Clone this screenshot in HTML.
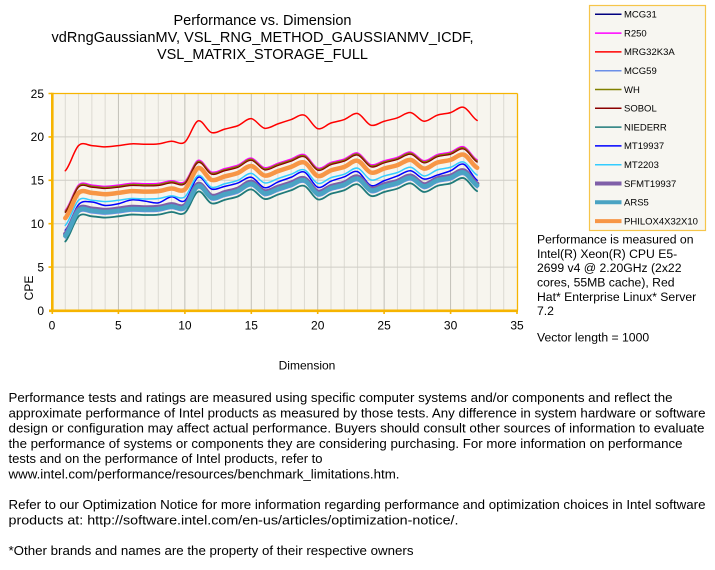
<!DOCTYPE html>
<html>
<head>
<meta charset="utf-8">
<style>
  html,body{margin:0;padding:0;background:#fff;}
  svg{display:block;}
  text{font-family:"Liberation Sans", Arial, sans-serif; fill:#000;}
</style>
</head>
<body>
<svg width="715" height="570" viewBox="0 0 715 570" xmlns="http://www.w3.org/2000/svg">
  <rect x="0" y="0" width="715" height="570" fill="#ffffff"/>

  <!-- Title -->
  <text x="262.5" y="25" font-size="14.5" text-anchor="middle" textLength="178" lengthAdjust="spacing">Performance vs. Dimension</text>
  <text x="262.5" y="42" font-size="14.5" text-anchor="middle" textLength="422" lengthAdjust="spacing">vdRngGaussianMV,  VSL_RNG_METHOD_GAUSSIANMV_ICDF,</text>
  <text x="262.5" y="59" font-size="14.5" text-anchor="middle" textLength="211" lengthAdjust="spacing">VSL_MATRIX_STORAGE_FULL</text>

  <!-- Plot background -->
  <rect x="52" y="93.5" width="465.5" height="217" fill="#f7f5ee"/>

  <!-- Grid (data coords) -->
  <g transform="translate(52,310.5) scale(13.2857,-8.68)" fill="none">
    <path d="M1,0V25M2,0V25M3,0V25M4,0V25M6,0V25M7,0V25M8,0V25M9,0V25M11,0V25M12,0V25M13,0V25M14,0V25M16,0V25M17,0V25M18,0V25M19,0V25M21,0V25M22,0V25M23,0V25M24,0V25M26,0V25M27,0V25M28,0V25M29,0V25M31,0V25M32,0V25M33,0V25M34,0V25" stroke="#dcdad2" stroke-width="1" vector-effect="non-scaling-stroke"/>
    <path d="M5,0V25M10,0V25M15,0V25M20,0V25M25,0V25M30,0V25" stroke="#c2c0b8" stroke-width="1" vector-effect="non-scaling-stroke"/>
    <path d="M0,5H35M0,10H35M0,15H35M0,20H35" stroke="#cfcdc6" stroke-width="1" vector-effect="non-scaling-stroke"/>
  </g>

  <!-- Series -->
  <g transform="translate(52,310.5) scale(13.2857,-8.68)" fill="none" stroke-linejoin="round" stroke-linecap="round">
    <!-- MCG31 -->
    <path transform="translate(0,-7.45)" stroke="#000080" stroke-width="1.5" vector-effect="non-scaling-stroke" d="M1,16.1 C1.333,16.583 1.667,18.517 2,19 C2.333,19.483 2.667,19.025 3,19 C3.333,18.975 3.667,18.85 4,18.85 C4.333,18.85 4.667,18.942 5,19 C5.333,19.058 5.667,19.175 6,19.2 C6.333,19.225 6.667,19.15 7,19.15 C7.333,19.15 7.667,19.142 8,19.2 C8.333,19.258 8.667,19.467 9,19.5 C9.333,19.533 9.667,19.008 10,19.4 C10.333,19.792 10.667,21.667 11,21.85 C11.333,22.033 11.667,20.658 12,20.5 C12.333,20.342 12.667,20.767 13,20.9 C13.333,21.033 13.667,21.1 14,21.3 C14.333,21.5 14.667,22.15 15,22.1 C15.333,22.05 15.667,21.1 16,21 C16.333,20.9 16.667,21.333 17,21.5 C17.333,21.667 17.667,21.833 18,22 C18.333,22.167 18.667,22.675 19,22.5 C19.333,22.325 19.667,21.1 20,20.95 C20.333,20.8 20.667,21.425 21,21.6 C21.333,21.775 21.667,21.817 22,22 C22.333,22.183 22.667,22.808 23,22.7 C23.333,22.592 23.667,21.5 24,21.35 C24.333,21.2 24.667,21.658 25,21.8 C25.333,21.942 25.667,22.033 26,22.2 C26.333,22.367 26.667,22.867 27,22.8 C27.333,22.733 27.667,21.85 28,21.8 C28.333,21.75 28.667,22.333 29,22.5 C29.333,22.667 29.667,22.65 30,22.8 C30.333,22.95 30.667,23.55 31,23.4 C31.333,23.25 31.667,22.15 32,21.9"/>
    <!-- R250 -->
    <path transform="translate(0,-4.55)" stroke="#ff00ff" stroke-width="1.5" vector-effect="non-scaling-stroke" d="M1,16.1 C1.333,16.583 1.667,18.517 2,19 C2.333,19.483 2.667,19.025 3,19 C3.333,18.975 3.667,18.85 4,18.85 C4.333,18.85 4.667,18.942 5,19 C5.333,19.058 5.667,19.175 6,19.2 C6.333,19.225 6.667,19.15 7,19.15 C7.333,19.15 7.667,19.142 8,19.2 C8.333,19.258 8.667,19.467 9,19.5 C9.333,19.533 9.667,19.008 10,19.4 C10.333,19.792 10.667,21.667 11,21.85 C11.333,22.033 11.667,20.658 12,20.5 C12.333,20.342 12.667,20.767 13,20.9 C13.333,21.033 13.667,21.1 14,21.3 C14.333,21.5 14.667,22.15 15,22.1 C15.333,22.05 15.667,21.1 16,21 C16.333,20.9 16.667,21.333 17,21.5 C17.333,21.667 17.667,21.833 18,22 C18.333,22.167 18.667,22.675 19,22.5 C19.333,22.325 19.667,21.1 20,20.95 C20.333,20.8 20.667,21.425 21,21.6 C21.333,21.775 21.667,21.817 22,22 C22.333,22.183 22.667,22.808 23,22.7 C23.333,22.592 23.667,21.5 24,21.35 C24.333,21.2 24.667,21.658 25,21.8 C25.333,21.942 25.667,22.033 26,22.2 C26.333,22.367 26.667,22.867 27,22.8 C27.333,22.733 27.667,21.85 28,21.8 C28.333,21.75 28.667,22.333 29,22.5 C29.333,22.667 29.667,22.65 30,22.8 C30.333,22.95 30.667,23.55 31,23.4 C31.333,23.25 31.667,22.15 32,21.9"/>
    <!-- MRG32K3A -->
    <path stroke="#ff0000" stroke-width="1.5" vector-effect="non-scaling-stroke" d="M1,16.1 C1.333,16.583 1.667,18.517 2,19 C2.333,19.483 2.667,19.025 3,19 C3.333,18.975 3.667,18.85 4,18.85 C4.333,18.85 4.667,18.942 5,19 C5.333,19.058 5.667,19.175 6,19.2 C6.333,19.225 6.667,19.15 7,19.15 C7.333,19.15 7.667,19.142 8,19.2 C8.333,19.258 8.667,19.467 9,19.5 C9.333,19.533 9.667,19.008 10,19.4 C10.333,19.792 10.667,21.667 11,21.85 C11.333,22.033 11.667,20.658 12,20.5 C12.333,20.342 12.667,20.767 13,20.9 C13.333,21.033 13.667,21.1 14,21.3 C14.333,21.5 14.667,22.15 15,22.1 C15.333,22.05 15.667,21.1 16,21 C16.333,20.9 16.667,21.333 17,21.5 C17.333,21.667 17.667,21.833 18,22 C18.333,22.167 18.667,22.675 19,22.5 C19.333,22.325 19.667,21.1 20,20.95 C20.333,20.8 20.667,21.425 21,21.6 C21.333,21.775 21.667,21.817 22,22 C22.333,22.183 22.667,22.808 23,22.7 C23.333,22.592 23.667,21.5 24,21.35 C24.333,21.2 24.667,21.658 25,21.8 C25.333,21.942 25.667,22.033 26,22.2 C26.333,22.367 26.667,22.867 27,22.8 C27.333,22.733 27.667,21.85 28,21.8 C28.333,21.75 28.667,22.333 29,22.5 C29.333,22.667 29.667,22.65 30,22.8 C30.333,22.95 30.667,23.55 31,23.4 C31.333,23.25 31.667,22.15 32,21.9"/>
    <!-- MCG59 -->
    <path transform="translate(0,-7.75)" stroke="#6b8fe8" stroke-width="1.5" vector-effect="non-scaling-stroke" d="M1,16.1 C1.333,16.583 1.667,18.517 2,19 C2.333,19.483 2.667,19.025 3,19 C3.333,18.975 3.667,18.85 4,18.85 C4.333,18.85 4.667,18.942 5,19 C5.333,19.058 5.667,19.175 6,19.2 C6.333,19.225 6.667,19.15 7,19.15 C7.333,19.15 7.667,19.142 8,19.2 C8.333,19.258 8.667,19.467 9,19.5 C9.333,19.533 9.667,19.008 10,19.4 C10.333,19.792 10.667,21.667 11,21.85 C11.333,22.033 11.667,20.658 12,20.5 C12.333,20.342 12.667,20.767 13,20.9 C13.333,21.033 13.667,21.1 14,21.3 C14.333,21.5 14.667,22.15 15,22.1 C15.333,22.05 15.667,21.1 16,21 C16.333,20.9 16.667,21.333 17,21.5 C17.333,21.667 17.667,21.833 18,22 C18.333,22.167 18.667,22.675 19,22.5 C19.333,22.325 19.667,21.1 20,20.95 C20.333,20.8 20.667,21.425 21,21.6 C21.333,21.775 21.667,21.817 22,22 C22.333,22.183 22.667,22.808 23,22.7 C23.333,22.592 23.667,21.5 24,21.35 C24.333,21.2 24.667,21.658 25,21.8 C25.333,21.942 25.667,22.033 26,22.2 C26.333,22.367 26.667,22.867 27,22.8 C27.333,22.733 27.667,21.85 28,21.8 C28.333,21.75 28.667,22.333 29,22.5 C29.333,22.667 29.667,22.65 30,22.8 C30.333,22.95 30.667,23.55 31,23.4 C31.333,23.25 31.667,22.15 32,21.9"/>
    <!-- WH -->
    <path transform="translate(0,-4.68)" stroke="#808000" stroke-width="1.5" vector-effect="non-scaling-stroke" d="M1,16.1 C1.333,16.583 1.667,18.517 2,19 C2.333,19.483 2.667,19.025 3,19 C3.333,18.975 3.667,18.85 4,18.85 C4.333,18.85 4.667,18.942 5,19 C5.333,19.058 5.667,19.175 6,19.2 C6.333,19.225 6.667,19.15 7,19.15 C7.333,19.15 7.667,19.142 8,19.2 C8.333,19.258 8.667,19.467 9,19.5 C9.333,19.533 9.667,19.008 10,19.4 C10.333,19.792 10.667,21.667 11,21.85 C11.333,22.033 11.667,20.658 12,20.5 C12.333,20.342 12.667,20.767 13,20.9 C13.333,21.033 13.667,21.1 14,21.3 C14.333,21.5 14.667,22.15 15,22.1 C15.333,22.05 15.667,21.1 16,21 C16.333,20.9 16.667,21.333 17,21.5 C17.333,21.667 17.667,21.833 18,22 C18.333,22.167 18.667,22.675 19,22.5 C19.333,22.325 19.667,21.1 20,20.95 C20.333,20.8 20.667,21.425 21,21.6 C21.333,21.775 21.667,21.817 22,22 C22.333,22.183 22.667,22.808 23,22.7 C23.333,22.592 23.667,21.5 24,21.35 C24.333,21.2 24.667,21.658 25,21.8 C25.333,21.942 25.667,22.033 26,22.2 C26.333,22.367 26.667,22.867 27,22.8 C27.333,22.733 27.667,21.85 28,21.8 C28.333,21.75 28.667,22.333 29,22.5 C29.333,22.667 29.667,22.65 30,22.8 C30.333,22.95 30.667,23.55 31,23.4 C31.333,23.25 31.667,22.15 32,21.9"/>
    <!-- SOBOL -->
    <path transform="translate(0,-4.8)" stroke="#8b0000" stroke-width="1.2" vector-effect="non-scaling-stroke" d="M1,16.1 C1.333,16.583 1.667,18.517 2,19 C2.333,19.483 2.667,19.025 3,19 C3.333,18.975 3.667,18.85 4,18.85 C4.333,18.85 4.667,18.942 5,19 C5.333,19.058 5.667,19.175 6,19.2 C6.333,19.225 6.667,19.15 7,19.15 C7.333,19.15 7.667,19.142 8,19.2 C8.333,19.258 8.667,19.467 9,19.5 C9.333,19.533 9.667,19.008 10,19.4 C10.333,19.792 10.667,21.667 11,21.85 C11.333,22.033 11.667,20.658 12,20.5 C12.333,20.342 12.667,20.767 13,20.9 C13.333,21.033 13.667,21.1 14,21.3 C14.333,21.5 14.667,22.15 15,22.1 C15.333,22.05 15.667,21.1 16,21 C16.333,20.9 16.667,21.333 17,21.5 C17.333,21.667 17.667,21.833 18,22 C18.333,22.167 18.667,22.675 19,22.5 C19.333,22.325 19.667,21.1 20,20.95 C20.333,20.8 20.667,21.425 21,21.6 C21.333,21.775 21.667,21.817 22,22 C22.333,22.183 22.667,22.808 23,22.7 C23.333,22.592 23.667,21.5 24,21.35 C24.333,21.2 24.667,21.658 25,21.8 C25.333,21.942 25.667,22.033 26,22.2 C26.333,22.367 26.667,22.867 27,22.8 C27.333,22.733 27.667,21.85 28,21.8 C28.333,21.75 28.667,22.333 29,22.5 C29.333,22.667 29.667,22.65 30,22.8 C30.333,22.95 30.667,23.55 31,23.4 C31.333,23.25 31.667,22.15 32,21.9"/>
    <!-- NIEDERR -->
    <path transform="translate(0,-8.15)" stroke="#1f7a7a" stroke-width="1.8" vector-effect="non-scaling-stroke" d="M1,16.1 C1.333,16.583 1.667,18.517 2,19 C2.333,19.483 2.667,19.025 3,19 C3.333,18.975 3.667,18.85 4,18.85 C4.333,18.85 4.667,18.942 5,19 C5.333,19.058 5.667,19.175 6,19.2 C6.333,19.225 6.667,19.15 7,19.15 C7.333,19.15 7.667,19.142 8,19.2 C8.333,19.258 8.667,19.467 9,19.5 C9.333,19.533 9.667,19.008 10,19.4 C10.333,19.792 10.667,21.667 11,21.85 C11.333,22.033 11.667,20.658 12,20.5 C12.333,20.342 12.667,20.767 13,20.9 C13.333,21.033 13.667,21.1 14,21.3 C14.333,21.5 14.667,22.15 15,22.1 C15.333,22.05 15.667,21.1 16,21 C16.333,20.9 16.667,21.333 17,21.5 C17.333,21.667 17.667,21.833 18,22 C18.333,22.167 18.667,22.675 19,22.5 C19.333,22.325 19.667,21.1 20,20.95 C20.333,20.8 20.667,21.425 21,21.6 C21.333,21.775 21.667,21.817 22,22 C22.333,22.183 22.667,22.808 23,22.7 C23.333,22.592 23.667,21.5 24,21.35 C24.333,21.2 24.667,21.658 25,21.8 C25.333,21.942 25.667,22.033 26,22.2 C26.333,22.367 26.667,22.867 27,22.8 C27.333,22.733 27.667,21.85 28,21.8 C28.333,21.75 28.667,22.333 29,22.5 C29.333,22.667 29.667,22.65 30,22.8 C30.333,22.95 30.667,23.55 31,23.4 C31.333,23.25 31.667,22.15 32,21.9"/>
    <!-- MT19937 -->
    <path stroke="#0000ff" stroke-width="1.5" vector-effect="non-scaling-stroke" d="M1,9.25 C1.333,9.742 1.667,11.658 2,12.2 C2.333,12.742 2.667,12.517 3,12.5 C3.333,12.483 3.667,12.133 4,12.1 C4.333,12.067 4.667,12.192 5,12.3 C5.333,12.408 5.667,12.7 6,12.75 C6.333,12.8 6.667,12.658 7,12.6 C7.333,12.542 7.667,12.317 8,12.4 C8.333,12.483 8.667,13.058 9,13.1 C9.333,13.142 9.667,12.275 10,12.65 C10.333,13.025 10.667,15.125 11,15.35 C11.333,15.575 11.667,14.175 12,14 C12.333,13.825 12.667,14.183 13,14.3 C13.333,14.417 13.667,14.525 14,14.7 C14.333,14.875 14.667,15.442 15,15.35 C15.333,15.258 15.667,14.242 16,14.15 C16.333,14.058 16.667,14.6 17,14.8 C17.333,15 17.667,15.158 18,15.35 C18.333,15.542 18.667,16.142 19,15.95 C19.333,15.758 19.667,14.375 20,14.2 C20.333,14.025 20.667,14.7 21,14.9 C21.333,15.1 21.667,15.217 22,15.4 C22.333,15.583 22.667,16.167 23,16 C23.333,15.833 23.667,14.575 24,14.4 C24.333,14.225 24.667,14.767 25,14.95 C25.333,15.133 25.667,15.308 26,15.5 C26.333,15.692 26.667,16.158 27,16.1 C27.333,16.042 27.667,15.233 28,15.15 C28.333,15.067 28.667,15.442 29,15.6 C29.333,15.758 29.667,15.892 30,16.1 C30.333,16.308 30.667,17.033 31,16.85 C31.333,16.667 31.667,15.308 32,15"/>
    <!-- MT2203 -->
    <path transform="translate(0,-6.3)" stroke="#33ccff" stroke-width="1.5" vector-effect="non-scaling-stroke" d="M1,16.1 C1.333,16.583 1.667,18.517 2,19 C2.333,19.483 2.667,19.025 3,19 C3.333,18.975 3.667,18.85 4,18.85 C4.333,18.85 4.667,18.942 5,19 C5.333,19.058 5.667,19.175 6,19.2 C6.333,19.225 6.667,19.15 7,19.15 C7.333,19.15 7.667,19.142 8,19.2 C8.333,19.258 8.667,19.467 9,19.5 C9.333,19.533 9.667,19.008 10,19.4 C10.333,19.792 10.667,21.667 11,21.85 C11.333,22.033 11.667,20.658 12,20.5 C12.333,20.342 12.667,20.767 13,20.9 C13.333,21.033 13.667,21.1 14,21.3 C14.333,21.5 14.667,22.15 15,22.1 C15.333,22.05 15.667,21.1 16,21 C16.333,20.9 16.667,21.333 17,21.5 C17.333,21.667 17.667,21.833 18,22 C18.333,22.167 18.667,22.675 19,22.5 C19.333,22.325 19.667,21.1 20,20.95 C20.333,20.8 20.667,21.425 21,21.6 C21.333,21.775 21.667,21.817 22,22 C22.333,22.183 22.667,22.808 23,22.7 C23.333,22.592 23.667,21.5 24,21.35 C24.333,21.2 24.667,21.658 25,21.8 C25.333,21.942 25.667,22.033 26,22.2 C26.333,22.367 26.667,22.867 27,22.8 C27.333,22.733 27.667,21.85 28,21.8 C28.333,21.75 28.667,22.333 29,22.5 C29.333,22.667 29.667,22.65 30,22.8 C30.333,22.95 30.667,23.55 31,23.4 C31.333,23.25 31.667,22.15 32,21.9"/>
    <!-- SFMT19937 -->
    <path transform="translate(0,-7.28)" stroke="#7f5fa8" stroke-width="4.5" vector-effect="non-scaling-stroke" d="M1,16.1 C1.333,16.583 1.667,18.517 2,19 C2.333,19.483 2.667,19.025 3,19 C3.333,18.975 3.667,18.85 4,18.85 C4.333,18.85 4.667,18.942 5,19 C5.333,19.058 5.667,19.175 6,19.2 C6.333,19.225 6.667,19.15 7,19.15 C7.333,19.15 7.667,19.142 8,19.2 C8.333,19.258 8.667,19.467 9,19.5 C9.333,19.533 9.667,19.008 10,19.4 C10.333,19.792 10.667,21.667 11,21.85 C11.333,22.033 11.667,20.658 12,20.5 C12.333,20.342 12.667,20.767 13,20.9 C13.333,21.033 13.667,21.1 14,21.3 C14.333,21.5 14.667,22.15 15,22.1 C15.333,22.05 15.667,21.1 16,21 C16.333,20.9 16.667,21.333 17,21.5 C17.333,21.667 17.667,21.833 18,22 C18.333,22.167 18.667,22.675 19,22.5 C19.333,22.325 19.667,21.1 20,20.95 C20.333,20.8 20.667,21.425 21,21.6 C21.333,21.775 21.667,21.817 22,22 C22.333,22.183 22.667,22.808 23,22.7 C23.333,22.592 23.667,21.5 24,21.35 C24.333,21.2 24.667,21.658 25,21.8 C25.333,21.942 25.667,22.033 26,22.2 C26.333,22.367 26.667,22.867 27,22.8 C27.333,22.733 27.667,21.85 28,21.8 C28.333,21.75 28.667,22.333 29,22.5 C29.333,22.667 29.667,22.65 30,22.8 C30.333,22.95 30.667,23.55 31,23.4 C31.333,23.25 31.667,22.15 32,21.9"/>
    <!-- ARS5 -->
    <path transform="translate(0,-7.5)" stroke="#4aa3c3" stroke-width="4.5" vector-effect="non-scaling-stroke" d="M1,16.1 C1.333,16.583 1.667,18.517 2,19 C2.333,19.483 2.667,19.025 3,19 C3.333,18.975 3.667,18.85 4,18.85 C4.333,18.85 4.667,18.942 5,19 C5.333,19.058 5.667,19.175 6,19.2 C6.333,19.225 6.667,19.15 7,19.15 C7.333,19.15 7.667,19.142 8,19.2 C8.333,19.258 8.667,19.467 9,19.5 C9.333,19.533 9.667,19.008 10,19.4 C10.333,19.792 10.667,21.667 11,21.85 C11.333,22.033 11.667,20.658 12,20.5 C12.333,20.342 12.667,20.767 13,20.9 C13.333,21.033 13.667,21.1 14,21.3 C14.333,21.5 14.667,22.15 15,22.1 C15.333,22.05 15.667,21.1 16,21 C16.333,20.9 16.667,21.333 17,21.5 C17.333,21.667 17.667,21.833 18,22 C18.333,22.167 18.667,22.675 19,22.5 C19.333,22.325 19.667,21.1 20,20.95 C20.333,20.8 20.667,21.425 21,21.6 C21.333,21.775 21.667,21.817 22,22 C22.333,22.183 22.667,22.808 23,22.7 C23.333,22.592 23.667,21.5 24,21.35 C24.333,21.2 24.667,21.658 25,21.8 C25.333,21.942 25.667,22.033 26,22.2 C26.333,22.367 26.667,22.867 27,22.8 C27.333,22.733 27.667,21.85 28,21.8 C28.333,21.75 28.667,22.333 29,22.5 C29.333,22.667 29.667,22.65 30,22.8 C30.333,22.95 30.667,23.55 31,23.4 C31.333,23.25 31.667,22.15 32,21.9"/>
    <!-- PHILOX4X32X10 -->
    <path transform="translate(0,-5.45)" stroke="#f79646" stroke-width="4.5" vector-effect="non-scaling-stroke" d="M1,16.1 C1.333,16.583 1.667,18.517 2,19 C2.333,19.483 2.667,19.025 3,19 C3.333,18.975 3.667,18.85 4,18.85 C4.333,18.85 4.667,18.942 5,19 C5.333,19.058 5.667,19.175 6,19.2 C6.333,19.225 6.667,19.15 7,19.15 C7.333,19.15 7.667,19.142 8,19.2 C8.333,19.258 8.667,19.467 9,19.5 C9.333,19.533 9.667,19.008 10,19.4 C10.333,19.792 10.667,21.667 11,21.85 C11.333,22.033 11.667,20.658 12,20.5 C12.333,20.342 12.667,20.767 13,20.9 C13.333,21.033 13.667,21.1 14,21.3 C14.333,21.5 14.667,22.15 15,22.1 C15.333,22.05 15.667,21.1 16,21 C16.333,20.9 16.667,21.333 17,21.5 C17.333,21.667 17.667,21.833 18,22 C18.333,22.167 18.667,22.675 19,22.5 C19.333,22.325 19.667,21.1 20,20.95 C20.333,20.8 20.667,21.425 21,21.6 C21.333,21.775 21.667,21.817 22,22 C22.333,22.183 22.667,22.808 23,22.7 C23.333,22.592 23.667,21.5 24,21.35 C24.333,21.2 24.667,21.658 25,21.8 C25.333,21.942 25.667,22.033 26,22.2 C26.333,22.367 26.667,22.867 27,22.8 C27.333,22.733 27.667,21.85 28,21.8 C28.333,21.75 28.667,22.333 29,22.5 C29.333,22.667 29.667,22.65 30,22.8 C30.333,22.95 30.667,23.55 31,23.4 C31.333,23.25 31.667,22.15 32,21.9"/>
  </g>

  <!-- Plot frame / axes -->
  <line x1="52" y1="93.5" x2="517.5" y2="93.5" stroke="#f6b400" stroke-width="1.3"/>
  <line x1="517.5" y1="93.5" x2="517.5" y2="310.5" stroke="#f6b400" stroke-width="1.3"/>
  <line x1="52.3" y1="92.8" x2="52.3" y2="312" stroke="#f6b400" stroke-width="2.6"/>
  <line x1="49" y1="310.8" x2="518" y2="310.8" stroke="#f6b400" stroke-width="2.6"/>
  <path d="M48.5,93.5H52M48.5,136.9H52M48.5,180.3H52M48.5,223.7H52M48.5,267.1H52" stroke="#f6b400" stroke-width="1.6"/>
  <path d="M52.3,310V314M118.4,310V314M184.9,310V314M251.3,310V314M317.7,310V314M384.1,310V314M450.6,310V314M517,310V314" stroke="#f6b400" stroke-width="1.6"/>

  <!-- Y tick labels -->
  <g font-size="12" text-anchor="end">
    <text x="44" y="97.8">25</text>
    <text x="44" y="141.2">20</text>
    <text x="44" y="184.6">15</text>
    <text x="44" y="228">10</text>
    <text x="44" y="271.4">5</text>
    <text x="44" y="314.8">0</text>
  </g>
  <!-- X tick labels -->
  <g font-size="12" text-anchor="middle">
    <text x="52" y="329.5">0</text>
    <text x="118.4" y="329.5">5</text>
    <text x="184.9" y="329.5">10</text>
    <text x="251.3" y="329.5">15</text>
    <text x="317.7" y="329.5">20</text>
    <text x="384.1" y="329.5">25</text>
    <text x="450.6" y="329.5">30</text>
    <text x="517" y="329.5">35</text>
  </g>

  <!-- Axis titles -->
  <text font-size="12" text-anchor="middle" transform="translate(32.8,288) rotate(-90)">CPE</text>
  <text x="307" y="369.3" font-size="12" text-anchor="middle">Dimension</text>

  <!-- Legend -->
  <rect x="589.5" y="5.5" width="116" height="225" fill="#f7f6f1" stroke="#f6c54a" stroke-width="1.2"/>
  <g stroke-linecap="butt">
    <line x1="595" y1="14.3" x2="621.5" y2="14.3" stroke="#000080" stroke-width="1.5"/>
    <line x1="595" y1="33.1" x2="621.5" y2="33.1" stroke="#ff00ff" stroke-width="1.5"/>
    <line x1="595" y1="51.9" x2="621.5" y2="51.9" stroke="#ff0000" stroke-width="1.5"/>
    <line x1="595" y1="70.7" x2="621.5" y2="70.7" stroke="#6b8fe8" stroke-width="1.5"/>
    <line x1="595" y1="89.5" x2="621.5" y2="89.5" stroke="#808000" stroke-width="1.5"/>
    <line x1="595" y1="108.3" x2="621.5" y2="108.3" stroke="#8b0000" stroke-width="1.5"/>
    <line x1="595" y1="127.1" x2="621.5" y2="127.1" stroke="#1f7a7a" stroke-width="1.5"/>
    <line x1="595" y1="145.9" x2="621.5" y2="145.9" stroke="#0000ff" stroke-width="1.5"/>
    <line x1="595" y1="164.7" x2="621.5" y2="164.7" stroke="#33ccff" stroke-width="1.5"/>
    <line x1="595" y1="183.5" x2="621.5" y2="183.5" stroke="#7f5fa8" stroke-width="4"/>
    <line x1="595" y1="202.3" x2="621.5" y2="202.3" stroke="#4aa3c3" stroke-width="4"/>
    <line x1="595" y1="221.1" x2="621.5" y2="221.1" stroke="#f79646" stroke-width="4"/>
  </g>
  <g font-size="9.5" fill="#222">
    <text x="624" y="17.6">MCG31</text>
    <text x="624" y="36.4">R250</text>
    <text x="624" y="55.2">MRG32K3A</text>
    <text x="624" y="74">MCG59</text>
    <text x="624" y="92.8">WH</text>
    <text x="624" y="111.6">SOBOL</text>
    <text x="624" y="130.4">NIEDERR</text>
    <text x="624" y="149.2">MT19937</text>
    <text x="624" y="168">MT2203</text>
    <text x="624" y="186.8">SFMT19937</text>
    <text x="624" y="205.6">ARS5</text>
    <text x="624" y="224.4">PHILOX4X32X10</text>
  </g>

  <!-- Right side notes -->
  <g font-size="12.2">
    <text x="537" y="243.6">Performance is measured on</text>
    <text x="537" y="257.9">Intel(R) Xeon(R) CPU E5-</text>
    <text x="537" y="272.2">2699 v4 @ 2.20GHz (2x22</text>
    <text x="537" y="286.5">cores, 55MB cache), Red</text>
    <text x="537" y="300.8">Hat* Enterprise Linux* Server</text>
    <text x="537" y="315.1">7.2</text>
    <text x="537" y="341.6">Vector length = 1000</text>
  </g>

  <!-- Bottom disclaimer -->
  <g font-size="13">
    <text x="8.5" y="402" textLength="664" lengthAdjust="spacingAndGlyphs">Performance tests and ratings are measured using specific computer systems and/or components and reflect the</text>
    <text x="8.5" y="417.3" textLength="697" lengthAdjust="spacingAndGlyphs">approximate performance of Intel products as measured by those tests. Any difference in system hardware or software</text>
    <text x="8.5" y="432.6" textLength="696" lengthAdjust="spacingAndGlyphs">design or configuration may affect actual performance. Buyers should consult other sources of information to evaluate</text>
    <text x="8.5" y="447.9" textLength="674" lengthAdjust="spacingAndGlyphs">the performance of systems or components they are considering purchasing. For more information on performance</text>
    <text x="8.5" y="463.2" textLength="314" lengthAdjust="spacingAndGlyphs">tests and on the performance of Intel products, refer to</text>
    <text x="8.5" y="478.5" textLength="391" lengthAdjust="spacingAndGlyphs">www.intel.com/performance/resources/benchmark_limitations.htm.</text>
    <text x="8.5" y="509.1" textLength="697" lengthAdjust="spacingAndGlyphs">Refer to our Optimization Notice for more information regarding performance and optimization choices in Intel software</text>
    <text x="8.5" y="524.4" textLength="450" lengthAdjust="spacingAndGlyphs">products at: http://software.intel.com/en-us/articles/optimization-notice/.</text>
    <text x="8.5" y="555" textLength="405" lengthAdjust="spacingAndGlyphs">*Other brands and names are the property of their respective owners</text>
  </g>
</svg>
</body>
</html>
